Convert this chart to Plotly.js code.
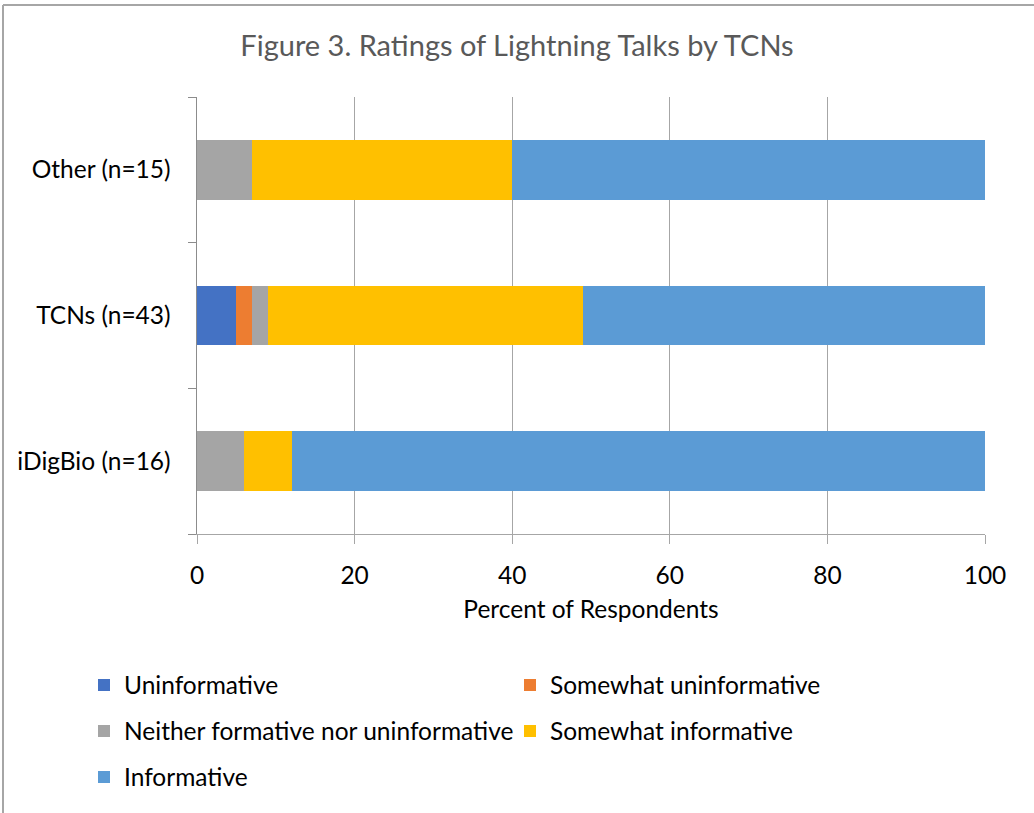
<!DOCTYPE html>
<html>
<head>
<meta charset="utf-8">
<script src="https://cdn.plot.ly/plotly-3.0.1.min.js"></script>
<style>
html,body{margin:0;padding:0;background:#fff;}
#chart{width:1034px;height:813px;}
</style>
</head>
<body>
<div id="chart"></div>
<script>
const categories = ['iDigBio (n=16)', 'TCNs (n=43)', 'Other (n=15)'];
const uninformative = [0, 5, 0];
const somewhatUninformative = [0, 2, 0];
const neither = [6, 2, 7];
const somewhatInformative = [6, 40, 33];
const informative = [88, 51, 60];
const xTicks = [0, 20, 40, 60, 80, 100];

const FONT = 'Lato, Open Sans, sans-serif';
const FS = 24.5;
const L = 197, R = 985, T = 97, B = 534;
const PW = R - L, PH = B - T;
const px = v => (v - L) / PW;
const py = v => (B - v) / PH;

function bar(name, vals, color, legend) {
  return {
    type: 'bar', orientation: 'h', name: name,
    x: vals, y: categories, width: 0.41,
    marker: {color: color, line: {width: 0}},
    legend: legend, hoverinfo: 'none'
  };
}

const data = [
  bar('Uninformative', uninformative, '#4472C4', 'legend'),
  bar('Somewhat uninformative', somewhatUninformative, '#ED7D31', 'legend'),
  bar('Neither formative nor uninformative', neither, '#A5A5A5', 'legend2'),
  bar('Somewhat informative', somewhatInformative, '#FFC000', 'legend2'),
  bar('Informative', informative, '#5B9BD5', 'legend3')
];

const legBase = {
  orientation: 'h', xanchor: 'left', yanchor: 'middle',
  x: px(84), font: {family: FONT, size: FS, color: '#000'},
  entrywidth: 381, entrywidthmode: 'pixels',
  bgcolor: 'rgba(0,0,0,0)', traceorder: 'normal',
  itemclick: false, itemdoubleclick: false
};

const layout = {
  width: 1034, height: 813,
  margin: {l: L, r: 1034 - R, t: T, b: 813 - B, pad: 0},
  paper_bgcolor: '#fff', plot_bgcolor: '#fff',
  barmode: 'stack',
  showlegend: true,
  title: {
    text: 'Figure 3. Ratings of Lightning Talks by TCNs',
    font: {family: FONT, size: 29, color: '#595959'},
    x: 0.5, xref: 'container', xanchor: 'center',
    y: 1 - 46 / 813, yref: 'container', yanchor: 'middle'
  },
  xaxis: {
    range: [0, 100], tickvals: xTicks, ticktext: xTicks.map(String),
    showgrid: true, gridcolor: '#a6a6a6', gridwidth: 1,
    showline: true, linecolor: '#a6a6a6', linewidth: 1,
    ticks: 'outside', ticklen: 9, tickcolor: '#a6a6a6',
    zeroline: false,
    tickfont: {family: FONT, size: FS, color: '#000'},
    ticklabelstandoff: 11,
    title: {text: 'Percent of Respondents', font: {family: FONT, size: FS, color: '#000'}, standoff: 12},
    fixedrange: true
  },
  yaxis: {
    type: 'category', categoryorder: 'array', categoryarray: categories,
    tickson: 'boundaries',
    showgrid: false, showline: true, linecolor: '#8c8c8c', linewidth: 1.5,
    ticks: 'outside', ticklen: 8, tickcolor: '#8c8c8c',
    tickfont: {family: FONT, size: FS, color: '#000'},
    ticklabelstandoff: 20,
    fixedrange: true
  },
  legend: Object.assign({}, legBase, {y: py(685)}),
  legend2: Object.assign({}, legBase, {y: py(731)}),
  legend3: Object.assign({}, legBase, {y: py(777)}),
  shapes: [
    {type: 'line', xref: 'paper', yref: 'paper', x0: px(3), x1: px(3), y0: py(5), y1: py(813), line: {color: '#a6a6a6', width: 2}},
    {type: 'line', xref: 'paper', yref: 'paper', x0: px(3), x1: px(1034), y0: py(5), y1: py(5), line: {color: '#a6a6a6', width: 2}}
  ]
};

Plotly.newPlot('chart', data, layout, {displayModeBar: false, staticPlot: true});
</script>
</body>
</html>
